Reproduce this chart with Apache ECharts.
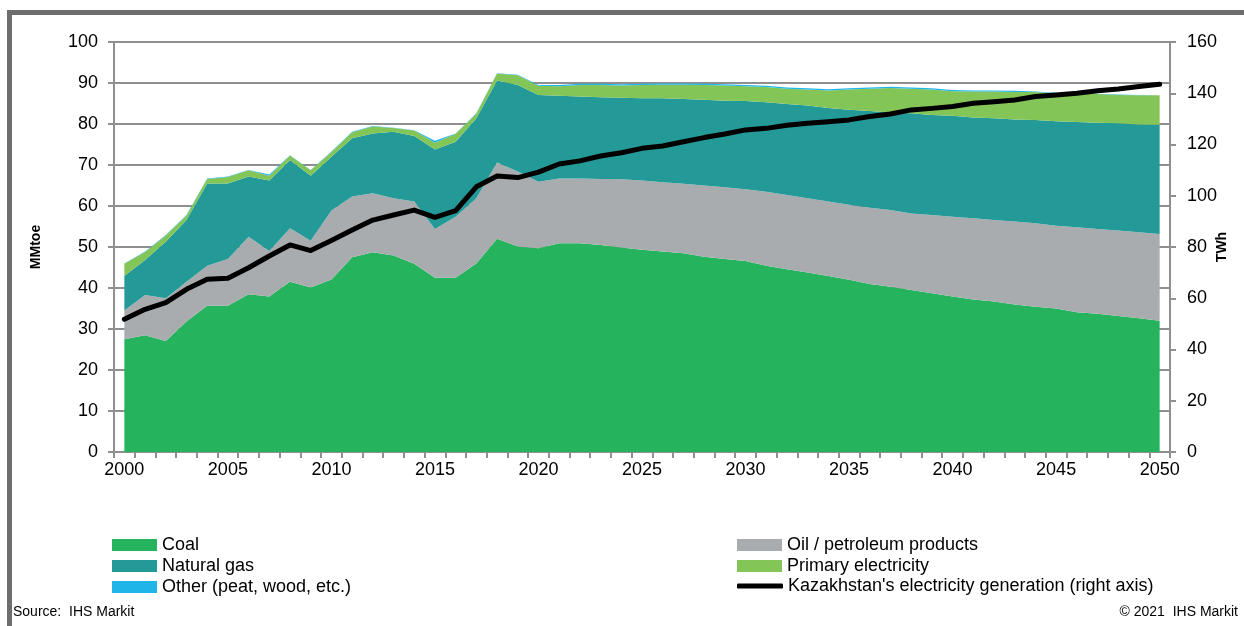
<!DOCTYPE html>
<html>
<head>
<meta charset="utf-8">
<script src="https://cdn.jsdelivr.net/npm/echarts@6/dist/echarts.min.js"></script>
<style>
html,body{margin:0;padding:0;background:#fff;overflow:hidden;}
#chart{width:1244px;height:626px;}
</style>
</head>
<body>
<div id="chart"></div>
<script>
var years = [];
for (var y = 2000; y <= 2050; y++) years.push(String(y));

var coal = [27.5,28.5,27.1,31.8,35.7,35.7,38.5,37.9,41.5,40.1,42.1,47.5,48.7,47.9,45.9,42.5,42.5,46.0,52.0,50.1,
  49.7,50.9,50.9,50.5,49.9,49.3,48.9,48.5,47.6,47.1,46.6,45.4,44.6,43.8,42.9,42.0,41.0,40.3,39.5,38.7,
  37.9,37.2,36.7,36.0,35.4,35.0,34.1,33.7,33.2,32.6,32.0];
var oil = [7.0,9.8,10.4,9.7,9.7,11.4,14.0,11.1,13.1,11.4,16.8,14.8,14.4,14.0,15.2,11.9,14.9,15.9,18.6,18.3,
  16.2,15.8,15.8,16.1,16.6,16.9,16.9,16.9,17.4,17.5,17.5,18.1,18.1,18.1,18.2,18.3,18.6,18.7,18.7,19.1,
  19.5,19.8,19.9,20.2,20.4,20.2,20.7,20.7,20.8,21.0,21.2];
var gas = [8.4,8.5,13.8,15.1,20.1,18.4,14.7,17.2,16.6,15.9,13.1,14.2,14.6,16.2,16.0,19.4,18.3,19.5,20.0,21.1,
  21.2,20.2,20.0,19.9,19.9,20.1,20.5,20.7,20.9,21.1,21.5,21.8,22.2,22.6,22.8,23.2,23.6,23.8,24.4,24.4,
  24.6,24.6,24.8,24.9,25.2,25.5,25.7,25.9,26.2,26.3,26.6];
var primary = [3.0,2.0,1.5,1.1,1.1,1.6,1.5,1.2,1.1,1.3,1.2,1.5,1.7,0.9,1.3,1.6,1.9,1.1,1.7,2.4,
  2.2,2.3,2.8,3.0,3.0,3.2,3.3,3.5,3.6,3.7,3.6,3.7,3.7,3.9,4.3,4.9,5.4,6.0,6.0,6.2,
  6.0,6.3,6.5,6.7,6.8,6.8,6.9,7.0,6.9,7.1,7.2];
var other = [0.1,0.1,0.1,0.1,0.1,0.1,0.1,0.3,0.1,0.1,0.1,0.1,0.1,0.1,0.1,0.5,0.1,0.1,0.1,0.1,
  0.2,0.3,0.3,0.3,0.3,0.3,0.3,0.3,0.3,0.3,0.3,0.3,0.3,0.3,0.3,0.3,0.3,0.3,0.3,0.3,
  0.3,0.3,0.3,0.3,0.1,0.1,0.1,0.1,0.1,0.1,0.1];
var electricity = [51.8,55.7,58.3,63.5,67.4,67.8,71.9,76.5,80.8,78.6,82.5,86.6,90.5,92.5,94.4,91.6,94.2,103.5,107.7,107.1,
  109.2,112.4,113.6,115.5,116.8,118.5,119.4,121.1,122.7,124.1,125.7,126.3,127.5,128.3,128.9,129.6,130.9,131.9,133.5,134.1,
  134.8,136.1,136.7,137.4,138.7,139.3,140.0,141.0,141.7,142.6,143.5];

var leftTicks = {min: 0, max: 100, interval: 10};
var rightTicks = {min: 0, max: 160, interval: 20};

var FONT = '"Liberation Sans", Arial, sans-serif';
var GRAY = '#8f8f8f';
var colors = {
  coal: '#25b35d', oil: '#a8acaf', gas: '#239a98', primary: '#84c557', other: '#20b5e9', line: '#000000'
};

function area(name, data, color) {
  return {
    name: name, type: 'line', stack: 'total', data: data, symbol: 'none',
    lineStyle: {width: 0}, itemStyle: {color: color},
    areaStyle: {color: color, opacity: 1}, emphasis: {disabled: true}, z: 2
  };
}

var legendText = {fontSize: 18, color: '#000', fontFamily: FONT};

var chart = echarts.init(document.getElementById('chart'), null, {renderer: 'canvas'});
chart.setOption({
  animation: false,
  textStyle: {fontFamily: FONT},
  grid: {left: 114, right: 74, top: 42, bottom: 174, containLabel: false, outerBoundsMode: 'none'},
  graphic: [
    {type: 'rect', shape: {x: 7, y: 10, width: 1237, height: 5}, style: {fill: '#6e6e6e'}, silent: true},
    {type: 'rect', shape: {x: 7, y: 10, width: 5, height: 616}, style: {fill: '#6e6e6e'}, silent: true},
    {type: 'text', left: 13, top: 605, style: {text: 'Source:  IHS Markit', fontSize: 14, fontFamily: FONT, fill: '#000'}},
    {type: 'text', right: 6, top: 605, style: {text: '\u00a9 2021  IHS Markit', fontSize: 14, fontFamily: FONT, fill: '#000'}}
  ],
  legend: [
    {
      orient: 'vertical', left: 112, top: 536, padding: 0, itemWidth: 45, itemHeight: 12, itemGap: 3, itemTextGap: 4,
      textStyle: legendText,
      data: [{name: 'Coal', icon: 'rect'}, {name: 'Natural gas', icon: 'rect'}, {name: 'Other (peat, wood, etc.)', icon: 'rect'}],
      selectedMode: false
    },
    {
      orient: 'vertical', left: 737, top: 536, padding: 0, itemWidth: 45, itemHeight: 12, itemGap: 3, itemTextGap: 4,
      textStyle: legendText,
      data: [{name: 'Oil / petroleum products', icon: 'rect'}, {name: 'Primary electricity', icon: 'rect'}],
      selectedMode: false
    },
    {
      orient: 'vertical', left: 737, top: 577, padding: 0, itemWidth: 46, itemHeight: 5, itemTextGap: 4,
      textStyle: legendText,
      data: [{name: "Kazakhstan's electricity generation (right axis)", icon: 'roundRect', itemStyle: {color: '#000'}}],
      selectedMode: false
    }
  ],
  xAxis: {
    type: 'category', data: years, boundaryGap: true,
    axisLine: {lineStyle: {color: GRAY, width: 2}},
    axisTick: {show: true, interval: 0, length: 6, lineStyle: {color: GRAY, width: 2}},
    axisLabel: {interval: 4, fontSize: 18, color: '#000', margin: 9, fontFamily: FONT},
    splitLine: {show: false}
  },
  yAxis: [
    {
      type: 'value', min: leftTicks.min, max: leftTicks.max, interval: leftTicks.interval,
      name: 'MMtoe', nameLocation: 'middle', nameGap: 71, nameRotate: 90, nameMoveOverlap: false,
      nameTextStyle: {fontSize: 14, fontWeight: 'bold', color: '#000', fontFamily: FONT},
      axisLine: {show: true, lineStyle: {color: GRAY, width: 2}},
      axisTick: {show: true, length: 6, lineStyle: {color: GRAY, width: 2}},
      axisLabel: {fontSize: 18, color: '#000', margin: 16, fontFamily: FONT},
      splitLine: {show: true, lineStyle: {color: GRAY, width: 2}}
    },
    {
      type: 'value', min: rightTicks.min, max: rightTicks.max, interval: rightTicks.interval, position: 'right',
      name: 'TWh', nameLocation: 'middle', nameGap: 45, nameRotate: 90, nameMoveOverlap: false,
      nameTextStyle: {fontSize: 14, fontWeight: 'bold', color: '#000', fontFamily: FONT},
      axisLine: {show: true, lineStyle: {color: GRAY, width: 2}},
      axisTick: {show: true, length: 6, lineStyle: {color: GRAY, width: 2}},
      axisLabel: {fontSize: 18, color: '#000', margin: 17, fontFamily: FONT},
      splitLine: {show: false}
    }
  ],
  series: [
    area('Coal', coal, colors.coal),
    area('Oil / petroleum products', oil, colors.oil),
    area('Natural gas', gas, colors.gas),
    area('Primary electricity', primary, colors.primary),
    area('Other (peat, wood, etc.)', other, colors.other),
    {
      name: "Kazakhstan's electricity generation (right axis)", type: 'line', yAxisIndex: 1,
      data: electricity, symbol: 'none', z: 5,
      lineStyle: {color: colors.line, width: 5, join: 'round', cap: 'round'},
      itemStyle: {color: colors.line}, emphasis: {disabled: true}
    }
  ]
});
</script>
</body>
</html>
